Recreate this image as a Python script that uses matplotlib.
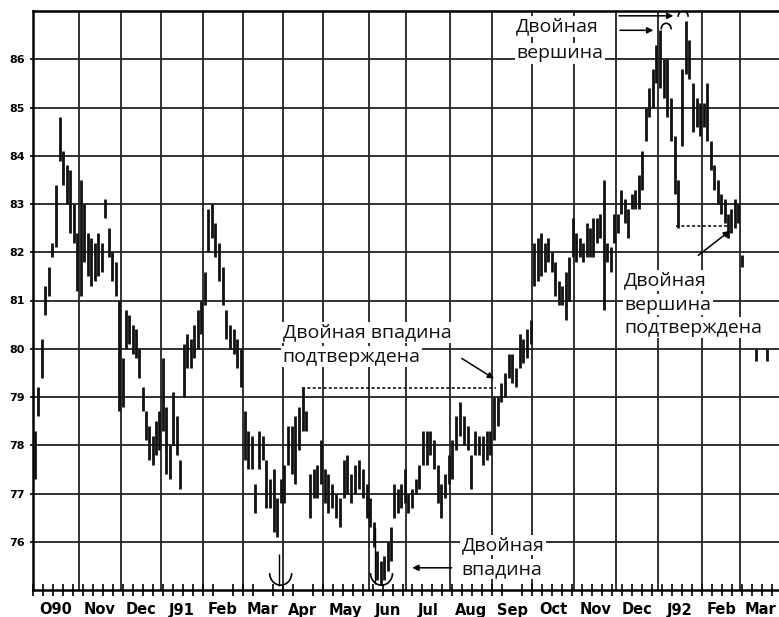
import matplotlib.pyplot as plt
from matplotlib.patches import Arc
import numpy as np

plt.rcParams['font.family'] = ['Open Sans', 'DejaVu Sans']

months = ['O90', 'Nov', 'Dec', 'J91', 'Feb', 'Mar', 'Apr', 'May', 'Jun',
          'Jul', 'Aug', 'Sep', 'Oct', 'Nov', 'Dec', 'J92', 'Feb', 'Mar']
days = [23, 21, 20, 21, 20, 20, 20, 23, 19, 22, 21, 20, 21, 21, 21, 22, 19, 20]
levels = [76, 77, 78, 79, 80, 81, 82, 83, 84, 85, 86]

# (low, high) bars, read month by month
oct90 = [(77.3, 78.3), (78.6, 79.2), (79.4, 80.2), (80.7, 81.3), (81.1, 81.7), (81.9, 82.2), (82.1, 83.4),
         (83.9, 84.8), (83.4, 84.1), (83.0, 83.8), (82.4, 83.7), (82.2, 83.0), (81.2, 82.4)]
nov90 = [(81.1, 83.5), (81.8, 83.0), (81.5, 82.4), (81.3, 82.3), (81.4, 82.2), (81.5, 82.4), (81.6, 82.2),
         (82.7, 83.1), (81.9, 82.5), (81.4, 82.0), (81.1, 81.8), (78.7, 81.0)]
dec90 = [(78.8, 79.8), (80.0, 80.8), (80.1, 80.7), (79.9, 80.5), (79.8, 80.4), (79.4, 80.0), (78.7, 79.2),
         (78.1, 78.7), (77.7, 78.4), (77.6, 78.2), (77.8, 78.5), (77.9, 78.7)]
jan91 = [(78.3, 79.8), (77.4, 78.8), (77.3, 78.0), (78.0, 79.1), (77.8, 78.6), (77.1, 77.7), (79.0, 80.1),
         (79.6, 80.3), (79.6, 80.2), (79.8, 80.5), (80.0, 80.8), (80.3, 81.0)]
feb91 = [(80.9, 81.6), (82.0, 82.9), (82.3, 83.0), (81.9, 82.6), (81.4, 82.2), (80.9, 81.7), (80.2, 80.8),
         (80.0, 80.5), (79.9, 80.4), (79.6, 80.2), (79.2, 80.0)]
mar91 = [(77.7, 78.7), (77.5, 78.3), (77.5, 78.2), (76.6, 77.2), (77.5, 78.3), (77.7, 78.2), (76.7, 77.7),
         (76.7, 77.3), (76.2, 77.5), (76.1, 76.9), (76.8, 77.3)]
apr91 = [(76.8, 77.6), (77.6, 78.4), (77.4, 78.4), (77.2, 78.6), (77.9, 78.8), (78.3, 79.2), (78.3, 78.7),
         (76.5, 77.4), (76.9, 77.5), (76.9, 77.6), (77.2, 78.1)]
may91 = [(76.8, 77.5), (76.6, 77.4), (76.7, 77.2), (76.5, 77.0), (76.3, 76.9), (76.9, 77.7), (77.0, 77.8),
         (76.8, 77.4), (77.0, 77.6), (77.1, 77.7), (76.9, 77.5), (76.5, 77.2)]
jun91 = [(76.3, 76.9), (75.9, 76.4), (75.2, 75.8), (75.1, 75.6), (75.2, 75.7), (75.4, 76.0), (75.6, 76.3),
         (76.5, 77.2), (76.6, 77.1), (76.7, 77.2), (76.8, 77.5)]
jul91 = [(76.6, 77.0), (76.7, 77.1), (77.0, 77.3), (77.1, 77.6), (77.6, 78.3), (77.6, 78.3), (77.8, 78.3),
         (77.5, 78.1), (76.8, 77.6), (76.5, 77.2), (76.9, 77.4), (77.2, 77.8)]
aug91 = [(77.3, 78.1), (77.9, 78.6), (78.2, 78.9), (78.0, 78.6), (77.9, 78.4), (77.1, 77.8), (77.8, 78.3),
         (77.8, 78.2), (77.6, 78.2), (77.7, 78.3), (77.8, 78.3)]
sep91 = [(78.1, 79.0), (78.4, 79.0), (78.9, 79.3), (79.0, 79.5), (79.4, 79.9), (79.3, 79.9), (79.2, 79.6),
         (79.6, 80.3), (79.7, 80.2), (79.8, 80.4), (80.1, 80.6)]
oct91 = [(81.3, 82.2), (81.4, 82.3), (81.5, 82.4), (81.6, 82.2), (81.8, 82.3), (81.6, 82.0), (81.1, 81.8),
         (80.9, 81.4), (80.9, 81.3), (80.6, 81.6), (81.0, 81.9), (81.9, 82.7)]
nov91 = [(81.8, 82.4), (81.9, 82.3), (81.8, 82.2), (81.9, 82.6), (81.9, 82.5), (81.9, 82.7), (82.2, 82.7),
         (82.3, 82.8), (80.8, 83.5), (81.8, 82.2), (81.6, 82.1), (82.2, 82.8)]
dec91 = [(82.4, 82.8), (82.8, 83.3), (82.6, 83.1), (82.3, 82.9), (82.9, 83.2), (82.9, 83.3), (82.9, 83.6),
         (83.3, 84.1), (84.3, 85.0), (84.8, 85.4), (85.0, 85.8), (85.5, 86.3)]
jan92 = [(85.4, 86.6), (85.2, 86.0), (84.8, 86.0), (84.3, 85.2), (83.2, 84.4), (82.5, 83.5), (84.2, 85.8),
         (85.7, 86.8), (85.6, 86.4), (84.5, 85.5), (84.6, 85.2), (84.4, 85.1)]
feb92 = [(84.6, 85.1), (84.3, 85.5), (83.7, 84.3), (83.3, 83.8), (83.0, 83.5), (82.8, 83.2), (82.6, 83.1),
         (82.3, 82.8), (82.4, 82.9), (82.5, 83.1), (82.6, 83.0)]
mar92 = [(81.7, 81.95), None, None, None, (79.75, 80.0), None, None, (79.75, 80.0), None, None, None]

bars = [oct90, nov90, dec90, jan91, feb91, mar91, apr91, may91, jun91,
        jul91, aug91, sep91, oct91, nov91, dec91, jan92, feb92, mar92]

starts = np.concatenate([[0], np.cumsum(days)[:-1]])
xmax = starts[-1] + 19.5

fig = plt.figure(figsize=(7.79, 6.17), dpi=100)
ax = fig.add_axes([33 / 779, 1 - 590 / 617, 746 / 779, 579 / 617])

# month grid and price grid
ax.vlines(starts[1:], 75, 87, color='#222222', lw=1.3, zorder=1)
ax.hlines(levels, 0, xmax, color='#222222', lw=1.3, zorder=1)

for s, d, month in zip(starts, days, bars):
    n = len(month)
    for i, b in enumerate(month):
        if b is None:
            continue
        xb = s + (i + 0.5) * d / n
        ax.vlines(xb, b[0], b[1], color='#111111', lw=2.0, zorder=3)

# necklines
ax.plot([134.5, 232], [79.19, 79.19], ls=(0, (2, 1.5)), color='black', lw=1.1, zorder=2)
ax.plot([322, 348.5], [82.54, 82.54], ls=(0, (2, 1.5)), color='black', lw=1.1, zorder=2)

# markers over the tops and under the bottoms
for cx, cy in [(317, 86.62), (325.5, 86.88)]:
    ax.add_patch(Arc((cx, cy), 5, 0.25, theta1=0, theta2=180, color='black', lw=1.2, zorder=4))
for cx, cy in [(124, 75.35), (174.5, 75.35)]:
    ax.add_patch(Arc((cx, cy), 11, 0.5, theta1=180, theta2=360, color='black', lw=1.2, zorder=4))
ax.vlines([123, 171], [75.08, 75.13], [75.75, 76.29], color='black', lw=1.0, zorder=4)

tkw = dict(fontsize=14, color='#111111', va='baseline', ha='left', zorder=5,
           bbox=dict(facecolor='white', edgecolor='none', pad=1))
ax.text(242, 86.58, 'Двойная', **tkw)
ax.text(242, 86.02, 'вершина', **tkw)
ax.text(125, 80.23, 'Двойная впадина', **tkw)
ax.text(125, 79.73, 'подтверждена', **tkw)
ax.text(214.5, 75.83, 'Двойная', **tkw)
ax.text(214.5, 75.33, 'впадина', **tkw)
ax.text(296, 81.31, 'Двойная', **tkw)
ax.text(296, 80.81, 'вершина', **tkw)
ax.text(296, 80.33, 'подтверждена', **tkw)

akw = dict(arrowstyle='-|>', color='black', lw=1.1, mutation_scale=9)
ax.annotate('', xy=(322, 86.9), xytext=(292, 86.9), arrowprops=akw, zorder=5)
ax.annotate('', xy=(312, 86.6), xytext=(292.5, 86.6), arrowprops=akw, zorder=5)
ax.annotate('', xy=(232, 79.35), xytext=(213.5, 79.83), arrowprops=akw, zorder=5)
ax.annotate('', xy=(188.5, 75.46), xytext=(211, 75.46), arrowprops=akw, zorder=5)
ax.annotate('', xy=(350, 82.48), xytext=(332, 81.9), arrowprops=akw, zorder=5)

ax.set_xlim(0, xmax)
ax.set_ylim(75, 87)

ax.set_yticks(levels)
ax.set_yticklabels([str(v) for v in levels], fontsize=8, fontweight='bold', family='DejaVu Sans')
ax.tick_params(axis='y', length=2, width=1.2, pad=4)

centers = starts + np.array(days) / 2
ax.set_xticks(centers)
ax.set_xticklabels(months, fontsize=10.5, fontweight='bold', family='DejaVu Sans')
ax.set_xticks(np.arange(0, xmax, 5), minor=True)
ax.tick_params(axis='x', which='major', length=0, pad=9)
ax.tick_params(axis='x', which='minor', direction='inout', length=8, width=1.2)

ax.spines['right'].set_visible(False)
for side in ['left', 'top', 'bottom']:
    ax.spines[side].set_linewidth(1.8)

fig.savefig('out.png', dpi=100)
